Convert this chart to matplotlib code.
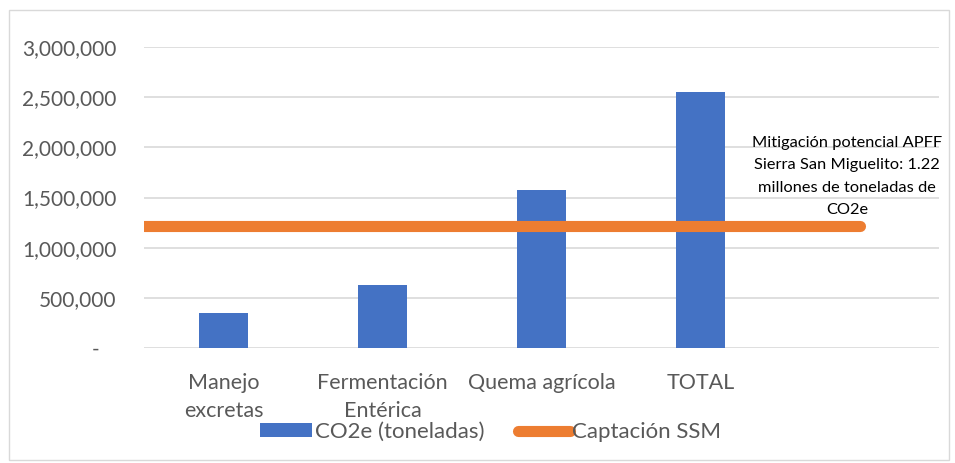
import matplotlib.pyplot as plt
from matplotlib.patches import Rectangle
from matplotlib.ticker import FuncFormatter

categories = ['Manejo\nexcretas', 'Fermentación\nEntérica', 'Quema agrícola', 'TOTAL', '']
co2e = [350000, 630000, 1575000, 2555000, None]
captacion = 1220000
note = 'Mitigación potencial APFF\nSierra San Miguelito: 1.22\nmillones de toneladas de\nCO2e'

plt.rcParams['font.family'] = ['Lato', 'DejaVu Sans']

fig = plt.figure(figsize=(9.55, 4.63), dpi=100)
fig.patches.append(Rectangle((0.009, 0.006), 0.985, 0.973, transform=fig.transFigure,
                             fill=False, edgecolor='#d9d9d9', linewidth=1))
ax = fig.add_axes([0.1508, 0.2484, 0.8325, 0.65])

xs = list(range(len(categories)))
bar_x = [x for x, v in zip(xs, co2e) if v is not None]
bar_v = [v for v in co2e if v is not None]
bars = ax.bar(bar_x, bar_v, width=0.31, color='#4472c4', label='CO2e (toneladas)', zorder=2)

ax.set_xlim(-0.5, len(categories) - 0.5)
ax.set_ylim(0, 3000000)
line_x = [-0.5, xs[-1]]
line, = ax.plot(line_x, [captacion] * len(line_x), color='#ed7d31', linewidth=8,
                solid_capstyle='round', label='Captación SSM', zorder=3)

ax.set_yticks(range(0, 3000001, 500000))
# excel accounting style: zero shown as a dash followed by padding
ax.yaxis.set_major_formatter(FuncFormatter(lambda v, p: '-   ' if v == 0 else f'{int(v):,}'))
ax.grid(axis='y', color='#d9d9d9', linewidth=1.2, zorder=0)
ax.set_axisbelow(True)
for s in ax.spines.values():
    s.set_visible(False)
ax.tick_params(length=0, labelsize=15.5, colors='#595959')
ax.tick_params(axis='y', labelsize=15, pad=20)
ax.tick_params(axis='x', pad=18)
ax.set_xticks(xs)
ax.set_xticklabels(categories, linespacing=1.5, va='top')

ax.text(3.92, 1710000, note, ha='center', va='center', fontsize=11.8,
        color='#000000', linespacing=1.75)

ax.legend(handles=[bars, line], loc='center', bbox_to_anchor=(0.436, -0.28), ncol=2,
          frameon=False, fontsize=16, labelcolor='#595959', handlelength=2.35,
          handleheight=0.6, handletextpad=0.12, columnspacing=1.5)

fig.savefig('out.png', dpi=100)
